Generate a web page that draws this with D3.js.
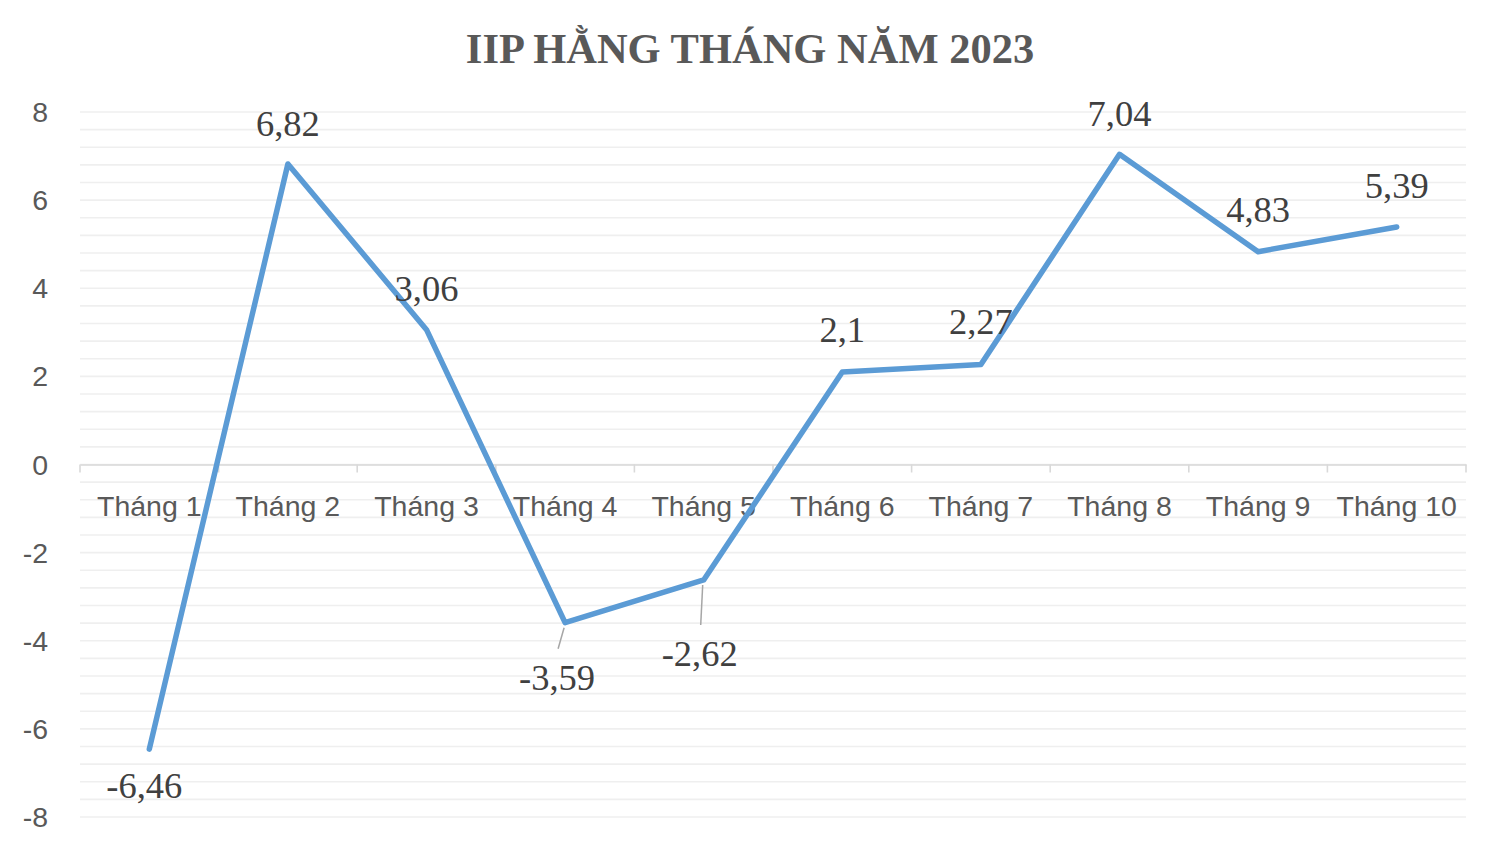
<!DOCTYPE html>
<html><head><meta charset="utf-8">
<script src="https://cdn.jsdelivr.net/npm/d3@7"></script>
<style>body{margin:0;background:#fff;}svg{display:block;}</style>
</head><body>
<svg id="chart" width="1500" height="852"></svg>
<script>
const title = "IIP HẰNG THÁNG NĂM 2023";
const categories = ["Tháng 1","Tháng 2","Tháng 3","Tháng 4","Tháng 5","Tháng 6","Tháng 7","Tháng 8","Tháng 9","Tháng 10"];
const values = [-6.46, 6.82, 3.06, -3.59, -2.62, 2.1, 2.27, 7.04, 4.83, 5.39];
const valueLabels = ["-6,46","6,82","3,06","-3,59","-2,62","2,1","2,27","7,04","4,83","5,39"];
const yTicks = [-8,-6,-4,-2,0,2,4,6,8];
const yMinorStep = 0.4;
// label placement: [dx, dy(baseline offset from point), leader line?]
const labelOffsets = [[-5,49,false],[0,-28,false],[0,-29,false],[-8,67,true],[-4,86,true],[0,-30,false],[0,-30,false],[0,-28,false],[0,-30,false],[0,-29,false]];

const svg = d3.select("#chart");
const mLeft = 80, mRight = 1466, mTop = 112, mBottom = 817;
const x = d3.scaleBand().domain(categories).range([mLeft, mRight]).padding(0);
const y = d3.scaleLinear().domain([-8, 8]).range([mBottom, mTop]);

// gridlines
const gridVals = d3.range(-8, 8.0001, yMinorStep);
svg.append("g").selectAll("line").data(gridVals).join("line")
  .attr("x1", mLeft).attr("x2", mRight)
  .attr("y1", d => y(d)).attr("y2", d => y(d))
  .attr("stroke", "#efefef").attr("stroke-width", 1.6);

// y axis labels
svg.append("g").selectAll("text").data(yTicks).join("text")
  .attr("x", 48).attr("y", d => y(d) + 10)
  .attr("text-anchor", "end")
  .attr("font-family", "Liberation Sans, Arial, sans-serif")
  .attr("font-size", 28.5).attr("fill", "#595959")
  .text(d => d);

// zero axis
const xAxis = d3.axisBottom(x).tickSize(8).tickFormat("").tickSizeOuter(0);
const gx = svg.append("g").attr("transform", `translate(0,${y(0)})`).call(xAxis);
gx.select(".domain").attr("stroke", "#d9d9d9").attr("stroke-width", 1.6);
gx.selectAll(".tick").remove();
const bounds = d3.range(categories.length + 1).map(i => mLeft + i * x.bandwidth());
gx.selectAll("line.b").data(bounds).join("line").attr("class","b")
  .attr("x1", d => d).attr("x2", d => d).attr("y1", 0).attr("y2", 8)
  .attr("stroke", "#d9d9d9").attr("stroke-width", 1.6);

// category labels
svg.append("g").selectAll("text").data(categories).join("text")
  .attr("x", d => x(d) + x.bandwidth() / 2).attr("y", y(0) + 51)
  .attr("text-anchor", "middle")
  .attr("font-family", "Liberation Sans, Arial, sans-serif")
  .attr("font-size", 28.5).attr("fill", "#595959")
  .text(d => d);

// leader lines
const pts = categories.map((c, i) => ({c, v: values[i], lab: valueLabels[i], off: labelOffsets[i], px: x(c) + x.bandwidth() / 2, py: y(values[i])}));
svg.append("g").selectAll("line").data(pts.filter(p => p.off[2])).join("line")
  .attr("x1", p => p.px - 1).attr("y1", p => p.py + 5)
  .attr("x2", p => p.px + p.off[0] + 1).attr("y2", p => p.py + p.off[1] - 41)
  .attr("stroke", "#a6a6a6").attr("stroke-width", 1.5);

// line
const line = d3.line().x(p => p.px).y(p => p.py);
svg.append("path").datum(pts).attr("d", line)
  .attr("fill", "none").attr("stroke", "#5b9bd5").attr("stroke-width", 5.5)
  .attr("stroke-linejoin", "round").attr("stroke-linecap", "round");

// data labels
svg.append("g").selectAll("text").data(pts).join("text")
  .attr("x", p => p.px + p.off[0]).attr("y", p => p.py + p.off[1])
  .attr("text-anchor", "middle")
  .attr("font-family", "Liberation Serif, Times New Roman, serif")
  .attr("font-size", 36.5).attr("fill", "#404040")
  .text(p => p.lab);

// title
svg.append("text").attr("x", 750).attr("y", 63)
  .attr("text-anchor", "middle")
  .attr("font-family", "Liberation Serif, Times New Roman, serif")
  .attr("font-weight", "bold").attr("font-size", 42.5).attr("fill", "#595959")
  .text(title);
</script>
</body></html>
